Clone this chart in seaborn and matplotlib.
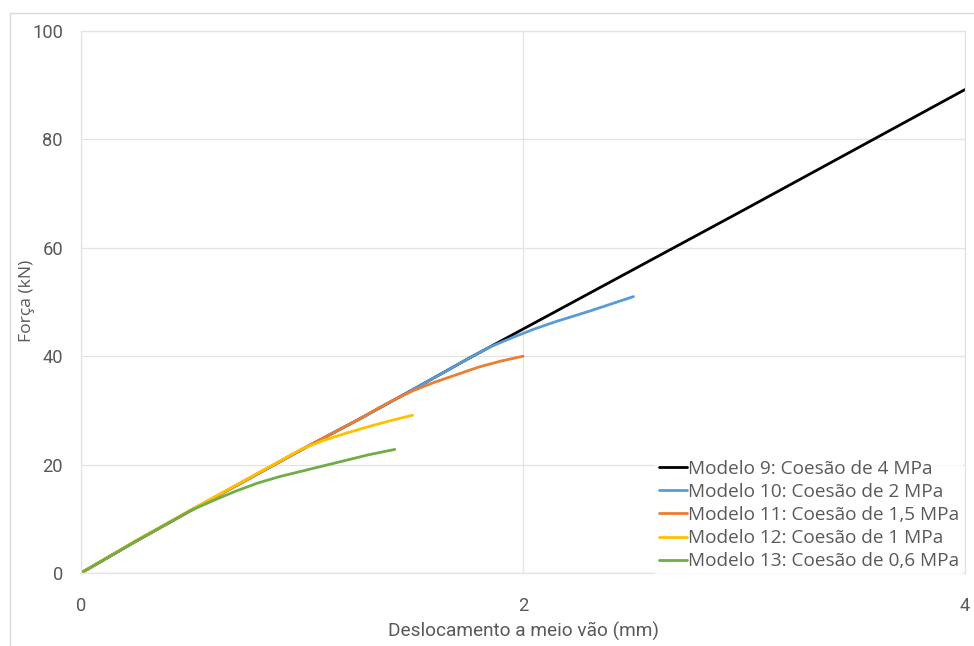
import matplotlib
matplotlib.use("Agg")
import matplotlib.pyplot as plt
import seaborn as sns
import pandas as pd
from matplotlib.patches import Rectangle
from matplotlib.lines import Line2D

# Load-displacement curves at mid-span for each cohesion model
labels = [
    "Modelo 9: Coesão de 4 MPa",
    "Modelo 10: Coesão de 2 MPa",
    "Modelo 11: Coesão de 1,5 MPa",
    "Modelo 12: Coesão de 1 MPa",
    "Modelo 13: Coesão de 0,6 MPa",
]

x_m9 = [0, 0.25, 0.5, 0.75, 1.0, 1.25, 1.5, 1.75, 2.0, 2.5, 3.0, 3.5, 4.0]
y_m9 = [0, 5.9, 11.6, 17.2, 22.8, 28.2, 33.8, 39.5, 45.0, 56.0, 67.0, 78.1, 89.2]

x_m10 = [0, 0.25, 0.5, 0.75, 1.0, 1.25, 1.5, 1.75, 1.85, 1.95, 2.05, 2.15, 2.3, 2.5]
y_m10 = [0, 5.9, 11.6, 17.2, 22.8, 28.2, 33.8, 39.5, 41.7, 43.4, 45.0, 46.4, 48.3, 51.0]

x_m11 = [0, 0.25, 0.5, 0.75, 1.0, 1.25, 1.4, 1.5, 1.6, 1.7, 1.8, 1.9, 2.0]
y_m11 = [0, 5.9, 11.6, 17.2, 22.8, 28.2, 31.6, 33.6, 35.2, 36.6, 38.0, 39.1, 40.0]

x_m12 = [0, 0.25, 0.5, 0.75, 1.0, 1.1, 1.2, 1.3, 1.4, 1.5]
y_m12 = [0, 6.0, 11.7, 17.3, 22.9, 24.5, 25.8, 27.0, 28.1, 29.1]

x_m13 = [0, 0.25, 0.5, 0.6, 0.7, 0.8, 0.9, 1.0, 1.1, 1.2, 1.3, 1.42]
y_m13 = [0, 5.9, 11.6, 13.4, 15.1, 16.6, 17.8, 18.8, 19.8, 20.8, 21.8, 22.8]

x_ticks = [0, 2, 4]
y_ticks = [0, 20, 40, 60, 80, 100]

colors = ["#000000", "#5B9BD5", "#ED7D31", "#FFC000", "#70AD47"]

series_x = [x_m9, x_m10, x_m11, x_m12, x_m13]
series_y = [y_m9, y_m10, y_m11, y_m12, y_m13]
df = pd.concat(
    [pd.DataFrame({"desloc": xs, "forca": ys, "modelo": lab})
     for lab, xs, ys in zip(labels, series_x, series_y)],
    ignore_index=True,
)

sns.set_theme(style="white")
narrow = ["Roboto", "DejaVu Sans"]
wide = ["Open Sans", "DejaVu Sans"]
plt.rcParams["font.family"] = wide

W, H = 974, 646
fig = plt.figure(figsize=(W / 100, H / 100), dpi=100)

# light outer frame of the chart area
fig.patches.append(Rectangle((10 / W, -0.1), 1.2, 1.1 - 13 / H,
                             transform=fig.transFigure, fill=False,
                             edgecolor="#d9d9d9", linewidth=1.0))

ax = fig.add_axes([81 / W, 1 - 573 / H, (965 - 81) / W, (573 - 31) / H])

sns.lineplot(data=df, x="desloc", y="forca", hue="modelo", hue_order=labels,
             palette=colors, estimator=None, sort=False, linewidth=2.0,
             legend=False, ax=ax)

ax.set_xlim(0, 4)
ax.set_ylim(0, 100)
ax.set_xticks(x_ticks)
ax.set_yticks(y_ticks)
ax.set_xticklabels([str(v) for v in x_ticks], family=narrow, fontsize=13.2, color="#595959")
ax.set_yticklabels([str(v) for v in y_ticks], family=narrow, fontsize=13.2, color="#595959")
ax.tick_params(axis="both", length=0)
ax.tick_params(axis="x", pad=17)
ax.tick_params(axis="y", pad=13)

ax.grid(True, color="#e3e3e3", linewidth=0.9)
for s in ax.spines.values():
    s.set_color("#e3e3e3")
    s.set_linewidth(0.9)

ax.set_xlabel("Deslocamento a meio vão (mm)", family=narrow, fontsize=13.7,
              color="#595959")
ax.xaxis.set_label_coords(0.5, (573 - 622) / 542)
ax.set_ylabel("Força (kN)", family=wide, fontsize=12.6, color="#595959")
ax.yaxis.set_label_coords((27 - 81) / 884, (573 - 301) / 542)
ax.yaxis.label.set_verticalalignment("center")

handles = [Line2D([], [], color=c, linewidth=2.0) for c in colors]
leg = ax.legend(handles, labels, loc="upper left",
                bbox_to_anchor=(655 / W, 1 - 456 / H), bbox_transform=fig.transFigure,
                frameon=True, fancybox=False, borderpad=0.2, labelspacing=0.27,
                handlelength=1.5, handletextpad=0.05, borderaxespad=0,
                prop={"family": wide, "size": 13.7})
leg.get_frame().set_facecolor("white")
leg.get_frame().set_edgecolor("none")
for t in leg.get_texts():
    t.set_color("#595959")

fig.savefig("out.png", dpi=100, facecolor="white")
